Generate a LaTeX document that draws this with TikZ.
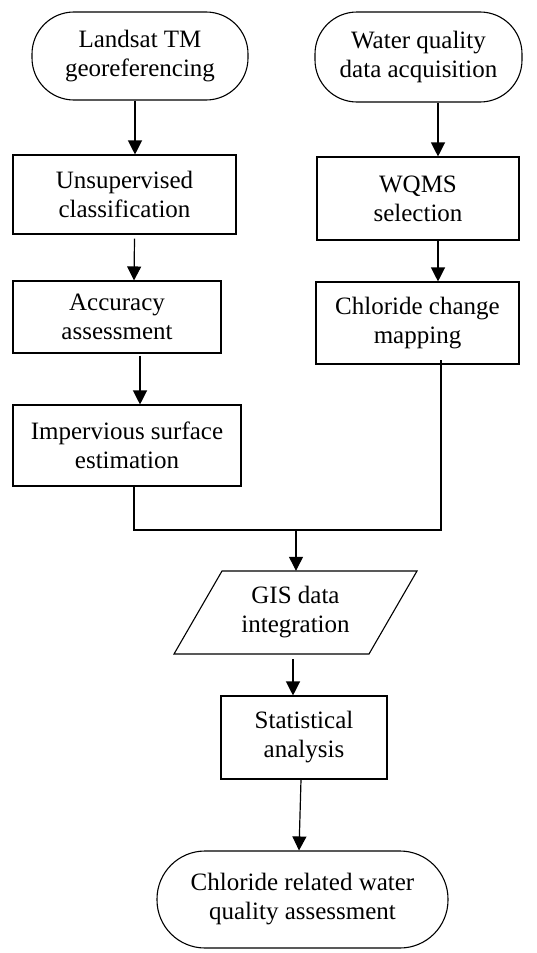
\documentclass[tikz,border=0pt]{standalone}
\usepackage{fontspec}
\setmainfont{Liberation Serif}
\usetikzlibrary{arrows.meta,calc}
\begin{document}
\begin{tikzpicture}[x=1pt,y=-1pt,
  every node/.style={font=\fontsize{25}{29}\selectfont, align=center, inner sep=0pt},
  boxnode/.style={draw, line width=1.1pt, rectangle},
  termnode/.style={draw, line width=1.1pt, rectangle, rounded corners=42pt},
  arr/.style={line width=1.2pt, -{Triangle[length=14pt,width=14pt]}},
  ln/.style={line width=1.2pt}]
\useasboundingbox (0,0) rectangle (536,953);
\node[termnode, minimum width=216pt, minimum height=88pt] (lt) at (140,56) {Landsat TM\\georeferencing};
\node[termnode, minimum width=207pt, minimum height=90pt] (rt) at (418.5,57) {Water quality\\data acquisition};
\node[boxnode, minimum width=223pt, minimum height=79pt] (uc) at (124.5,194.5) {Unsupervised\\classification};
\node[boxnode, minimum width=202pt, minimum height=83pt] (wq) at (418,198.5) {WQMS\\selection};
\node[boxnode, minimum width=208pt, minimum height=72pt] (ac) at (117,317) {Accuracy\\assessment};
\node[boxnode, minimum width=203pt, minimum height=82pt] (cc) at (417.5,323) {Chloride change\\mapping};
\node[boxnode, minimum width=228pt, minimum height=81pt] (im) at (127,445.5) {Impervious surface\\estimation};
\node[minimum width=170pt, minimum height=83pt] (gis) at (295.5,612.5) {GIS data\\integration};
\draw[line width=1.1pt] ($(gis.center)+(-73.5,-41.5)$) -- ($(gis.center)+(121.5,-41.5)$)
  -- ($(gis.center)+(73.5,41.5)$) -- ($(gis.center)+(-121.5,41.5)$) -- cycle;
\node[boxnode, minimum width=166pt, minimum height=83pt] (sa) at (304,737.5) {Statistical\\analysis};
\node[termnode, rounded corners=48pt, minimum width=291pt, minimum height=97pt] (ct) at (302.5,899.5) {Chloride related water\\quality assessment};
\coordinate (m) at (296,530);
\draw[arr] ([xshift=-5pt]lt.south) -- ([xshift=10.5pt]uc.north);
\draw[arr] ([xshift=19.5pt]rt.south) -- ([xshift=20pt]wq.north);
\draw[arr] ([xshift=10pt,yshift=-4pt]uc.south) -- ([xshift=17pt]ac.north);
\draw[arr] ([xshift=20pt]wq.south) -- ([xshift=20.5pt]cc.north);
\draw[arr] ([xshift=23pt,yshift=-2pt]ac.south) -- ([xshift=13pt]im.north);
\draw[ln] ([xshift=7pt]im.south) |- (m) -| ([xshift=23.5pt,yshift=5pt]cc.south);
\draw[arr] (m) -- (m |- gis.north);
\draw[arr] ([xshift=-2.5pt,yshift=-5pt]gis.south) -- ([xshift=-11pt]sa.north);
\draw[arr] ([xshift=-3pt]sa.south) -- ([xshift=-3.5pt]ct.north);
\end{tikzpicture}
\end{document}
